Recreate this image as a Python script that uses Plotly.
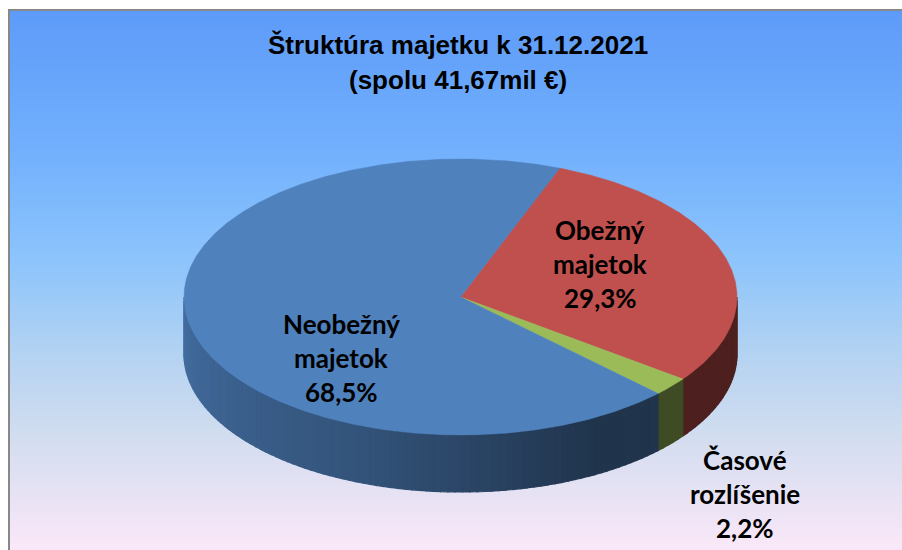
import numpy as np
import plotly.graph_objects as go

# ---- data ----
categories = ["Obežný majetok", "Časové rozlíšenie", "Neobežný majetok"]
shares = [29.3, 2.2, 68.5]
label_lines = [["Obežný", "majetok", "29,3%"],
               ["Časové", "rozlíšenie", "2,2%"],
               ["Neobežný", "majetok", "68,5%"]]
title_lines = ["Štruktúra majetku k 31.12.2021", "(spolu 41,67mil €)"]

# ---- style / geometry ----
top_colors = ["#C0504D", "#9BBB59", "#4F81BD"]
W, H = 902, 550
CX, CY, RX, RY, DEPTH = 460.5, 297.0, 276.5, 138.0, 57.0
START = 21.0  # degrees clockwise from 12 o'clock
label_pos = [(600, 264), (745, 494), (341, 358)]
line_gap = 34
title_pos = (458, 62)
title_gap = 35


def hex2rgb(h):
    h = h.lstrip("#")
    return [int(h[i:i + 2], 16) for i in (0, 2, 4)]


def rgb(c):
    return "rgb(%d,%d,%d)" % tuple(int(round(v)) for v in c)


def pt(theta_deg, dy=0.0):
    t = np.radians(theta_deg)
    return CX + RX * np.sin(t), CY - RY * np.cos(t) + dy


def side_k(theta):
    th = theta % 360
    return float(np.interp(th, [90, 150, 200, 270], [0.40, 0.40, 0.64, 0.85]))


fig = go.Figure()

# background gradient
stops_y = [0, 10, 150, 260, 350, 430, 550]
stops_c = ["#5d9bf9", "#5d9bf9", "#72b0fd", "#8cc4fb", "#b2d2f2", "#d0dcef", "#fae8f8"]
stops_rgb = np.array([hex2rgb(c) for c in stops_c], dtype=float)
shapes = []
step = 4
for y0 in range(0, H, step):
    ym = y0 + step / 2
    col = [np.interp(ym, stops_y, stops_rgb[:, i]) for i in range(3)]
    shapes.append(dict(type="rect", xref="x", yref="y", x0=0, x1=W, y0=y0, y1=y0 + step,
                       fillcolor=rgb(col), line=dict(width=0), layer="below"))
shapes.append(dict(type="rect", xref="x", yref="y", x0=0, x1=W, y0=0, y1=9,
                   fillcolor="white", line=dict(width=0), layer="below"))
shapes.append(dict(type="rect", xref="x", yref="y", x0=0, x1=8, y0=0, y1=H,
                   fillcolor="white", line=dict(width=0), layer="below"))
shapes.append(dict(type="rect", xref="x", yref="y", x0=9, x1=W + 10, y0=10, y1=H + 10,
                   fillcolor="rgba(0,0,0,0)", line=dict(color="#888888", width=2), layer="below"))

# slice angles from data
total = sum(shares)
angles = []
a = START
for v in shares:
    b = a + v / total * 360.0
    angles.append((a, b))
    a = b

# sides (front visible part)
for (a, b), col in zip(angles, top_colors):
    base = np.array(hex2rgb(col), dtype=float)
    for lo, hi in [(90, 270), (450, 630)]:
        s, e = max(a, lo), min(b, hi)
        if e <= s:
            continue
        n = max(2, int((e - s) / 1.5))
        edges = np.linspace(s, e, n + 1)
        for i in range(n):
            th = np.linspace(edges[i], edges[i + 1], 6)
            xs_t, ys_t = pt(th)
            xs_b, ys_b = pt(th[::-1], DEPTH)
            xs = np.concatenate([xs_t, xs_b, xs_t[:1]])
            ys = np.concatenate([ys_t, ys_b, ys_t[:1]])
            c = base * side_k((edges[i] + edges[i + 1]) / 2)
            fig.add_trace(go.Scatter(x=xs, y=ys, fill="toself", mode="lines",
                                     line=dict(width=1.2, color=rgb(c)), fillcolor=rgb(c),
                                     hoverinfo="skip", showlegend=False))

# top faces
for (a, b), col, name in zip(angles, top_colors, categories):
    th = np.linspace(a, b, max(8, int(b - a) * 2))
    xs, ys = pt(th)
    xs = np.concatenate([[CX], xs, [CX]])
    ys = np.concatenate([[CY], ys, [CY]])
    fig.add_trace(go.Scatter(x=xs, y=ys, fill="toself", mode="lines",
                             line=dict(width=0.5, color=col), fillcolor=col,
                             name=name, hoverinfo="name", showlegend=False))

annotations = []
for lines, (lx, ly) in zip(label_lines, label_pos):
    for j, t in enumerate(lines):
        annotations.append(dict(x=lx, y=ly + (j - 1) * line_gap, xref="x", yref="y", text="<b>%s</b>" % t,
                                showarrow=False, font=dict(family="Lato", size=26, color="black")))
for j, t in enumerate(title_lines):
    annotations.append(dict(x=title_pos[0], y=title_pos[1] + (j - 0.5) * title_gap, xref="x", yref="y",
                            text="<b>%s</b>" % t, showarrow=False,
                            font=dict(family="Liberation Sans, Arial", size=26, color="black")))

fig.update_layout(
    width=W, height=H,
    margin=dict(l=0, r=0, t=0, b=0),
    paper_bgcolor="white", plot_bgcolor="white",
    xaxis=dict(range=[0, W], visible=False, fixedrange=True),
    yaxis=dict(range=[H, 0], visible=False, fixedrange=True),
    shapes=shapes, annotations=annotations,
    showlegend=False,
)
fig.write_html("out.html", post_script="document.body.style.margin='0px';",
               config={"displayModeBar": False})
